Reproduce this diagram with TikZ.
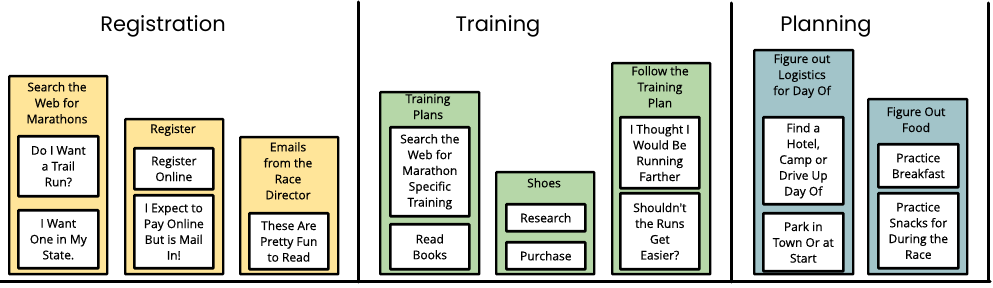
\documentclass[tikz,border=0pt]{standalone}
\usepackage{fontspec}
\newfontfamily\cardfamily[FakeBold=0.6]{Open Sans}
\newfontfamily\hdrfamily{Poppins}
\definecolor{cY}{HTML}{FFE599}
\definecolor{cG}{HTML}{B6D7A8}
\definecolor{cB}{HTML}{A2C4C9}
\tikzset{
  box/.style={draw=black, line width=2.4pt, inner sep=0pt, anchor=north west, rounded corners=0.6pt},
  yel/.style={box, fill=cY},
  grn/.style={box, fill=cG},
  blu/.style={box, fill=cB},
  card/.style={box, fill=white, align=center, line width=2.6pt, font=\cardfamily\fontsize{12}{15.8}\selectfont},
  ttl/.style={align=center, inner sep=0pt, anchor=north, font=\cardfamily\fontsize{12}{16}\selectfont},
  hdr/.style={inner sep=0pt, font=\hdrfamily\fontsize{21}{24}\selectfont},
  rule/.style={line width=3pt, line cap=round}
}
\begin{document}
\begin{tikzpicture}[x=1pt,y=-1pt]
\useasboundingbox (0,0) rectangle (993,288);
% headers
\node[hdr] (hReg) at (163,26) {Registration};
\node[hdr] (hTrn) at (498,26) {Training};
\node[hdr] (hPln) at (826,26) {Planning};
% separators
\coordinate (s1t) at (358,2);  \coordinate (s1b) at (358,282);
\coordinate (s2t) at (731,3);  \coordinate (s2b) at (731,282);
\coordinate (s3t) at (988,3);  \coordinate (s3b) at (988,281);
\coordinate (bl) at (0,282);   \coordinate (br) at (990,282);
\draw[rule] (s1t) -- (s1b);
\draw[rule] (s2t) -- (s2b);
\draw[rule] (s3t) -- (s3b);
\draw[rule] (bl) -- (br);
% Registration
\node[yel, minimum width=98, minimum height=198] (A) at (8,75) {};
\node[ttl] (At) at (57,82) {Search the\\Web for\\Marathons};
\node[card, minimum width=80, minimum height=60] (A1) at (17,135) {Do I Want\\a Trail\\Run?};
\node[card, minimum width=80, minimum height=58] (A2) at (17,209) {I Want\\One in My\\State.};
\node[yel, minimum width=98, minimum height=155] (B) at (124,118) {};
\node[ttl] (Bt) at (173,124) {Register};
\node[card, minimum width=79, minimum height=41] (B1) at (133,147) {Register\\Online};
\node[card, minimum width=79, minimum height=73] (B2) at (133,194) {I Expect to\\Pay Online\\But is Mail\\In!};
\node[yel, minimum width=98, minimum height=137] (C) at (239,136) {};
\node[ttl] (Ct) at (288,142) {Emails\\from the\\Race\\Director};
\node[card, minimum width=79, minimum height=56] (C1) at (248,212) {These Are\\Pretty Fun\\to Read};
% Training
\node[grn, minimum width=99, minimum height=182] (D) at (379,91) {};
\node[ttl] (Dt) at (428,94) {Training\\Plans};
\node[card, minimum width=79, minimum height=89] (D1) at (389,126) {Search the\\Web for\\Marathon\\Specific\\Training};
\node[card, minimum width=79, minimum height=45] (D2) at (389,223) {Read\\Books};
\node[grn, minimum width=98, minimum height=102] (E) at (495,171) {};
\node[ttl] (Et) at (544,178) {Shoes};
\node[card, minimum width=79, minimum height=27] (E1) at (505,203) {Research};
\node[card, minimum width=79, minimum height=27] (E2) at (505,241) {Purchase};
\node[grn, minimum width=98, minimum height=211] (F) at (611,62) {};
\node[ttl] (Ft) at (660,66) {Follow the\\Training\\Plan};
\node[card, minimum width=79, minimum height=71] (F1) at (619,116) {I Thought I\\Would Be\\Running\\Farther};
\node[card, minimum width=79, minimum height=76] (F2) at (619,192) {Shouldn't\\the Runs\\Get\\Easier?};
% Planning
\node[blu, minimum width=99, minimum height=224] (G) at (753,49) {};
\node[ttl] (Gt) at (802,54) {Figure out\\Logistics\\for Day Of};
\node[card, minimum width=80, minimum height=87] (G1) at (762,116) {Find a\\Hotel,\\Camp or\\Drive Up\\Day Of};
\node[card, minimum width=80, minimum height=58] (G2) at (762,212) {Park in\\Town Or at\\Start};
\node[blu, minimum width=99, minimum height=175] (H) at (867,98) {};
\node[ttl] (Ht) at (916,107) {Figure Out\\Food};
\node[card, minimum width=80, minimum height=43] (H1) at (877,143) {Practice\\Breakfast};
\node[card, minimum width=80, minimum height=75] (H2) at (877,192) {Practice\\Snacks for\\During the\\Race};
\end{tikzpicture}
\end{document}
